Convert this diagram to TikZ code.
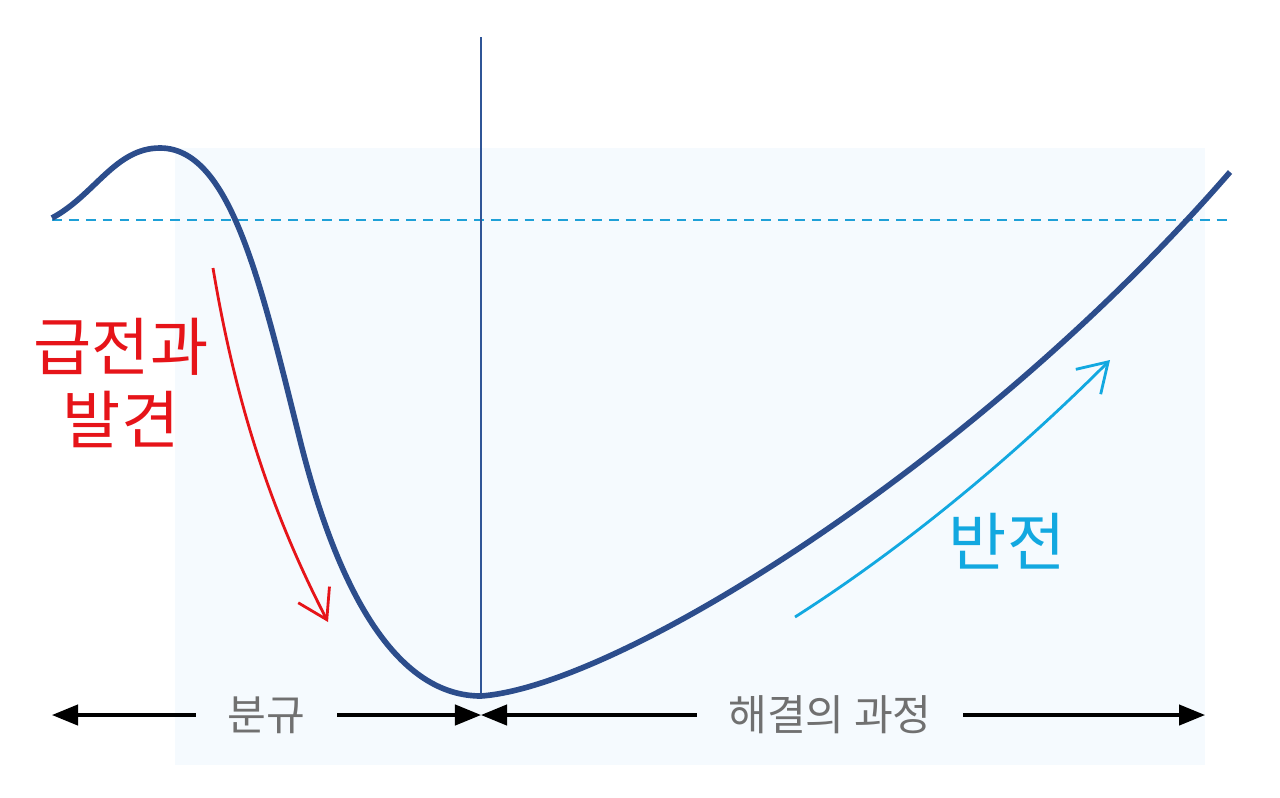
\documentclass[tikz,border=0pt]{standalone}
\usepackage{fontspec}
\setmainfont{Noto Sans CJK KR}
\usetikzlibrary{arrows.meta}
\definecolor{curveblue}{RGB}{44,77,140}
\definecolor{axisblue}{RGB}{47,85,151}
\definecolor{dashcyan}{RGB}{30,160,215}
\definecolor{turncyan}{RGB}{18,168,224}
\definecolor{fallred}{RGB}{230,20,25}
\definecolor{bgfill}{RGB}{245,250,254}
\definecolor{labelgray}{RGB}{112,112,112}
\begin{document}
\begin{tikzpicture}[x=0.01cm,y=-0.01cm,
  curve/.style={line width=1.6pt,curveblue},
  span/.style={line width=0.9pt,{Triangle[length=7.4pt,width=5.8pt]}-{Triangle[length=7.4pt,width=5.8pt]}},
  spanlabel/.style={fill=bgfill,text=labelgray,font=\fontsize{12}{14}\selectfont,inner xsep=9pt},
  bigtext/.style={font=\fontsize{18}{21}\selectfont,align=center}]
  \useasboundingbox (0,0) rectangle (1280,797);
  \fill[bgfill] (175,148) rectangle (1205,765); % shaded panel
  % key points of the curve
  \coordinate (start) at (52,218);
  \coordinate (peak) at (160,148);
  \coordinate (bot) at (481,696);
  \coordinate (end) at (1230,172);
  \coordinate (top) at (481,37);
  \coordinate (dstart) at (52,220);
  \coordinate (dend) at (1230,220);
  \draw[dashcyan,line width=0.7pt,dash pattern=on 2.8pt off 2pt] (dstart) -- (dend);
  \draw[axisblue,line width=0.6pt] (top) -- (bot);
  \draw[curve] (start) .. controls (95,195) and (115,148) .. (peak)
    .. controls (230,148) and (260,280) .. (300,440)
    .. controls (340,600) and (400,696) .. (bot)
    .. controls (620,686) and (980,460) .. (end);
  % falling arrow
  \coordinate (fa) at (213,268);
  \coordinate (fb) at (328,622);
  \draw[fallred,line width=0.8pt,-{Straight Barb[length=8pt,width=10pt]}] (fa) .. controls (235,400) and (270,510) .. (fb);
  \node[bigtext,text=fallred] (fall) at (121,383) {급전과\\발견};
  % rising arrow
  \coordinate (ra) at (795,617);
  \coordinate (rb) at (1110,360);
  \draw[turncyan,line width=0.8pt,-{Straight Barb[length=8pt,width=10pt]}] (ra) .. controls (900,550) and (1010,460) .. (rb);
  \node[bigtext,text=turncyan] (turn) at (1007,541) {반전};
  % bottom spans
  \coordinate (left) at (52,715);
  \coordinate (mid) at (481,715);
  \coordinate (right) at (1205,715);
  \draw[span] (left) -- (mid) node[spanlabel,midway] (conflict) {분규};
  \draw[span] (mid) -- (right) node[spanlabel,pos=0.482] (solve) {해결의 과정};
\end{tikzpicture}
\end{document}
